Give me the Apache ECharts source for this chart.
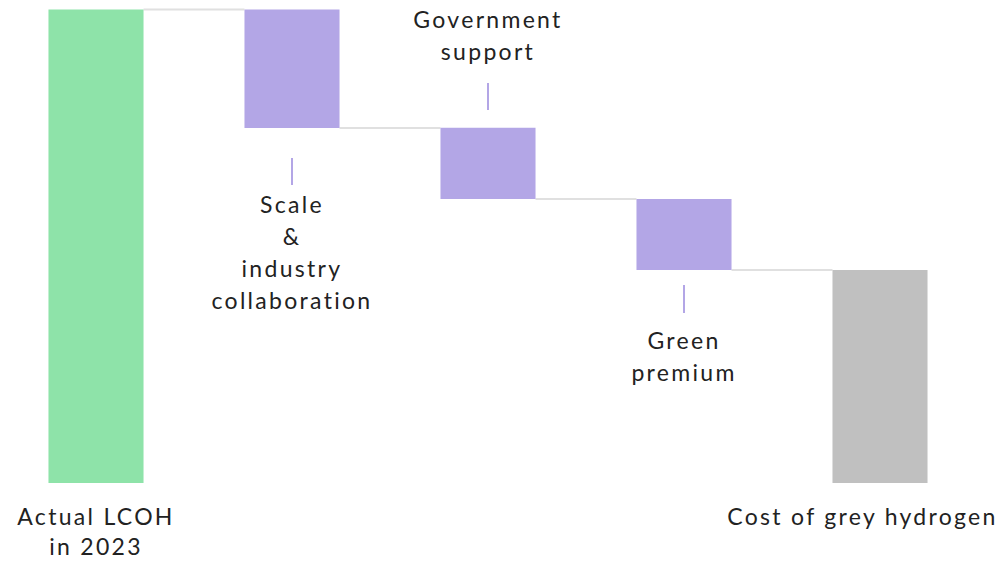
<!DOCTYPE html>
<html>
<head>
<meta charset="utf-8">
<script src="https://cdn.jsdelivr.net/npm/echarts@6/dist/echarts.min.js"></script>
<style>
  html, body { margin: 0; padding: 0; background: #fff; }
  #main { width: 1008px; height: 562px; }
  /* the original font is wide and loosely tracked */
  #main text { letter-spacing: 2.3px; }
</style>
</head>
<body>
<div id="main"></div>
<script>
// waterfall: LCOH -> grey hydrogen
var categories = ['Actual LCOH\nin 2023', 'Scale\n&\nindustry\ncollaboration', 'Government\nsupport', 'Green\npremium', 'Cost of grey hydrogen'];
var values = [100, -25, -15, -15, 45];
var kinds = ['start', 'step', 'step', 'step', 'total'];

var colors = { start: '#8ee3a9', step: '#b3a6e6', total: '#c0c0c0' };
var FONT = 'Lato';
var FSIZE = 23;

// stacked bars: transparent base + visible part
var baseData = [];
var barData = [];
var levels = [];   // level where each bar ends (for connectors)
var running = 0;
for (var i = 0; i < values.length; i++) {
    if (kinds[i] == 'start') {
        running = values[i];
        baseData.push(0);
        barData.push({ value: values[i], itemStyle: { color: colors.start } });
    } else if (kinds[i] == 'step') {
        running = running + values[i];
        baseData.push(running);
        barData.push({ value: -values[i], itemStyle: { color: colors.step } });
    } else {
        baseData.push(0);
        barData.push({ value: values[i], itemStyle: { color: colors.total } });
    }
    levels.push(running);
}

var connectorData = [];
for (var i = 0; i < values.length - 1; i++) {
    connectorData.push([i, levels[i]]);
}

// axis labels only under start/total bars; the last one is nudged left to stay inside
var axisData = categories.map(function(c, i) {
    if (kinds[i] == 'total') return { value: c, textStyle: { padding: [0, 35, 0, 0] } };
    return c;
});

// annotation placement for the step bars (offset from bar end, px)
var notes = {
    1: { side: 'below', tick: [30, 57], text: 60 },
    2: { side: 'above', tick: [18, 45], text: 61 },
    3: { side: 'below', tick: [15, 43], text: 54 }
};
var noteData = [];
for (var i = 0; i < values.length; i++) {
    if (kinds[i] == 'step') noteData.push([i, baseData[i], baseData[i] + barData[i].value]);
}

var BAR_RATIO = 0.485;

var myChart = echarts.init(document.getElementById('main'), null, { renderer: 'svg' });
myChart.setOption({
    animation: false,
    grid: { left: -2, right: 30, top: 9.5, bottom: 79, containLabel: false, outerBoundsMode: 'none' },
    xAxis: {
        type: 'category',
        data: axisData,
        axisLine: { show: false },
        axisTick: { show: false },
        axisLabel: {
            interval: 0,
            margin: 18,
            fontFamily: FONT,
            fontSize: FSIZE,
            lineHeight: 30,
            color: '#222',
            formatter: function(val, idx) {
                return kinds[idx] == 'step' ? '' : val;
            }
        }
    },
    yAxis: {
        type: 'value',
        min: 0,
        max: 100,
        show: false
    },
    series: [{
        type: 'bar',
        stack: 'w',
        barWidth: (BAR_RATIO * 100) + '%',
        itemStyle: { color: 'transparent' },
        data: baseData,
        silent: true
    }, {
        type: 'bar',
        stack: 'w',
        data: barData,
        z: 3
    }, {
        type: 'custom',
        data: connectorData,
        z: 1,
        renderItem: function(params, api) {
            var p = api.coord([api.value(0), api.value(1)]);
            var band = api.size([1, 0])[0];
            var half = band * BAR_RATIO / 2;
            return {
                type: 'line',
                shape: { x1: p[0] + half, y1: p[1], x2: p[0] + band - half, y2: p[1] },
                style: { stroke: '#e0e0e0', lineWidth: 2 }
            };
        }
    }, {
        type: 'custom',
        data: noteData,
        z: 4,
        renderItem: function(params, api) {
            var idx = api.value(0);
            var n = notes[idx];
            var lo = api.coord([idx, api.value(1)]);
            var hi = api.coord([idx, api.value(2)]);
            var x = lo[0];
            var children = [];
            var textStyle = {
                x: x,
                text: categories[idx],
                align: 'center',
                font: FSIZE + 'px ' + FONT, lineHeight: 32, fill: '#222'
            };
            if (n.side == 'below') {
                children.push({
                    type: 'line',
                    shape: { x1: x, y1: lo[1] + n.tick[0], x2: x, y2: lo[1] + n.tick[1] },
                    style: { stroke: '#b3a6e6', lineWidth: 2 }
                });
                textStyle.y = lo[1] + n.text;
                textStyle.verticalAlign = 'top';
            } else {
                children.push({
                    type: 'line',
                    shape: { x1: x, y1: hi[1] - n.tick[0], x2: x, y2: hi[1] - n.tick[1] },
                    style: { stroke: '#b3a6e6', lineWidth: 2 }
                });
                textStyle.y = hi[1] - n.text;
                textStyle.verticalAlign = 'bottom';
            }
            children.push({ type: 'text', style: textStyle });
            return { type: 'group', children: children };
        }
    }]
});
</script>
</body>
</html>
